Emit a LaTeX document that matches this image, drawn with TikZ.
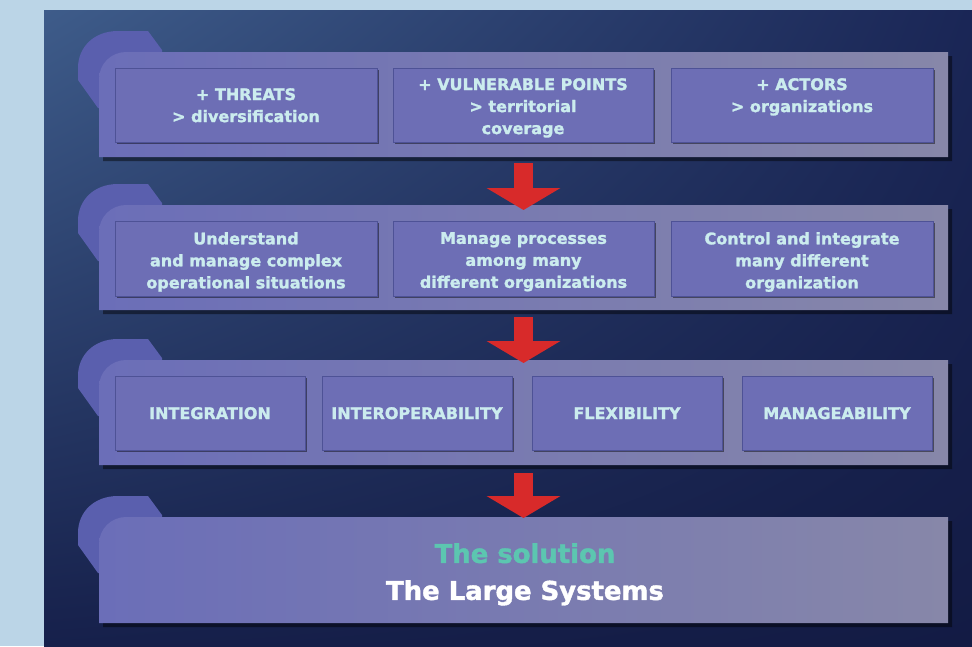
\documentclass[tikz,border=0pt]{standalone}
\usepackage{fontspec}
\setmainfont{DejaVu Sans}
\newfontfamily\heavyfont{DejaVu Sans}[BoldFeatures={FakeBold=1.6}]
\usetikzlibrary{arrows.meta,shadows,shadings,calc}
\definecolor{outerbg}{HTML}{BBD5E7}
\definecolor{panelUL}{HTML}{3E5C8A}
\definecolor{panelUR}{HTML}{1A2656}
\definecolor{panelLL}{HTML}{16204B}
\definecolor{panelLR}{HTML}{131B44}
\definecolor{tabc}{HTML}{5A5FAE}
\definecolor{bandL}{HTML}{6B6EB8}
\definecolor{bandR}{HTML}{8787A9}
\definecolor{boxc}{HTML}{6D6EB5}
\definecolor{boxline}{HTML}{4E5296}
\definecolor{lblc}{HTML}{CBECEE}
\definecolor{solc}{HTML}{5CC6B0}
\definecolor{arrc}{HTML}{D82A2A}
\tikzset{
  bandbox/.style={rectangle, inner sep=0pt, outer sep=0pt, minimum width=849, minimum height=105, anchor=north west},
  ibox/.style={rectangle, inner sep=0pt, outer sep=0pt, anchor=north west, fill=boxc, draw=boxline, line width=0.8pt,
    drop shadow={shadow xshift=1.5pt, shadow yshift=-1.5pt, opacity=0.45, fill=black}},
  lbl/.style={font=\heavyfont\fontsize{16}{22}\selectfont\bfseries, text=lblc, align=center, inner sep=0pt},
  biglbl/.style={font=\heavyfont\fontsize{25.9}{37}\selectfont\bfseries, text=white, align=center, inner sep=0pt},
  redarr/.style={draw=arrc, line width=19pt, -{Triangle[length=22pt, width=73pt]}},
  bandfill/.style={left color=bandL, right color=bandR,
    drop shadow={shadow xshift=4pt, shadow yshift=-4pt, opacity=0.45, fill=black}}
}
\newcommand\drawband[1]{%
  \fill[tabc] ($(#1.north west)+(63,-2)$) -- ($(#1.north west)+(49,-21)$) -- ($(#1.north west)+(19,-21)$)
    .. controls ($(#1.north west)+(-5,-21)$) and ($(#1.north west)+(-21,-5)$) .. ($(#1.north west)+(-21,16)$)
    -- ($(#1.north west)+(-21,28)$) -- ($(#1.north west)+(-1,56)$) -- ($(#1.north west)+(63,56)$) -- cycle;
  \path[bandfill] (#1.south west) [rounded corners=27pt] -- (#1.north west) [sharp corners] -- (#1.north east) -- (#1.south east) -- cycle;
}
\begin{document}
\begin{tikzpicture}[x=1pt,y=-1pt]
\useasboundingbox (0,0) rectangle (972,646);
\fill[outerbg] (0,0) rectangle (972,646);
\shade[upper left=panelUL, upper right=panelUR, lower left=panelLL, lower right=panelLR] (44,10) rectangle (972,646);

% bands (geometry holders)
\node[bandbox] (b1) at (99,52) {};
\node[bandbox] (b2) at (99,205) {};
\node[bandbox] (b3) at (99,360) {};
\node[bandbox, minimum height=106] (b4) at (99,517) {};

\drawband{b1}
\drawband{b2}
\drawband{b3}
\drawband{b4}

% band 1 boxes
\node[ibox, minimum width=262, minimum height=74] (b11) at (115,68) {};
\node[ibox, minimum width=260, minimum height=74] (b12) at (393,68) {};
\node[ibox, minimum width=262, minimum height=74] (b13) at (671,68) {};
\node[lbl, anchor=north] (t11) at ($(b11.north)+(0,20)$) {+ THREATS\\> diversification};
\node[lbl, anchor=north] (t12) at ($(b12.north)+(0,10)$) {+ VULNERABLE POINTS\\> territorial\\coverage};
\node[lbl, anchor=north] (t13) at ($(b13.north)+(0,10)$) {+ ACTORS\\> organizations};

% band 2 boxes
\node[ibox, minimum width=262, minimum height=75] (b21) at (115,221) {};
\node[ibox, minimum width=261, minimum height=75] (b22) at (393,221) {};
\node[ibox, minimum width=262, minimum height=75] (b23) at (671,221) {};
\node[lbl, anchor=north] (t21) at ($(b21.north)+(0,11)$) {Understand\\and manage complex\\operational situations};
\node[lbl, anchor=north] (t22) at ($(b22.north)+(0,11)$) {Manage processes\\among many\\different organizations};
\node[lbl, anchor=north] (t23) at ($(b23.north)+(0,11)$) {Control and integrate\\many different\\organization};

% band 3 boxes
\node[ibox, minimum width=190, minimum height=74] (b31) at (115,376) {};
\node[ibox, minimum width=190, minimum height=74] (b32) at (322,376) {};
\node[ibox, minimum width=190, minimum height=74] (b33) at (532,376) {};
\node[ibox, minimum width=190, minimum height=74] (b34) at (742,376) {};
\node[lbl, anchor=base] (t31) at ($(b31.center)+(0,6)$) {INTEGRATION};
\node[lbl, anchor=base] (t32) at ($(b32.center)+(0,6)$) {INTEROPERABILITY};
\node[lbl, anchor=base] (t33) at ($(b33.center)+(0,6)$) {FLEXIBILITY};
\node[lbl, anchor=base] (t34) at ($(b34.center)+(0,6)$) {MANAGEABILITY};

% band 4 text
\node[biglbl, anchor=north] (sol) at ($(b4.north)+(1.5,26)$) {\textcolor{solc}{The solution}\\The Large Systems};

% arrows
\draw[redarr] ($(b1.south)+(0,6)$) -- ($(b2.north)+(0,5)$);
\draw[redarr] ($(b2.south)+(0,7)$) -- ($(b3.north)+(0,3)$);
\draw[redarr] ($(b3.south)+(0,8)$) -- ($(b4.north)+(0,1)$);
\end{tikzpicture}
\end{document}
